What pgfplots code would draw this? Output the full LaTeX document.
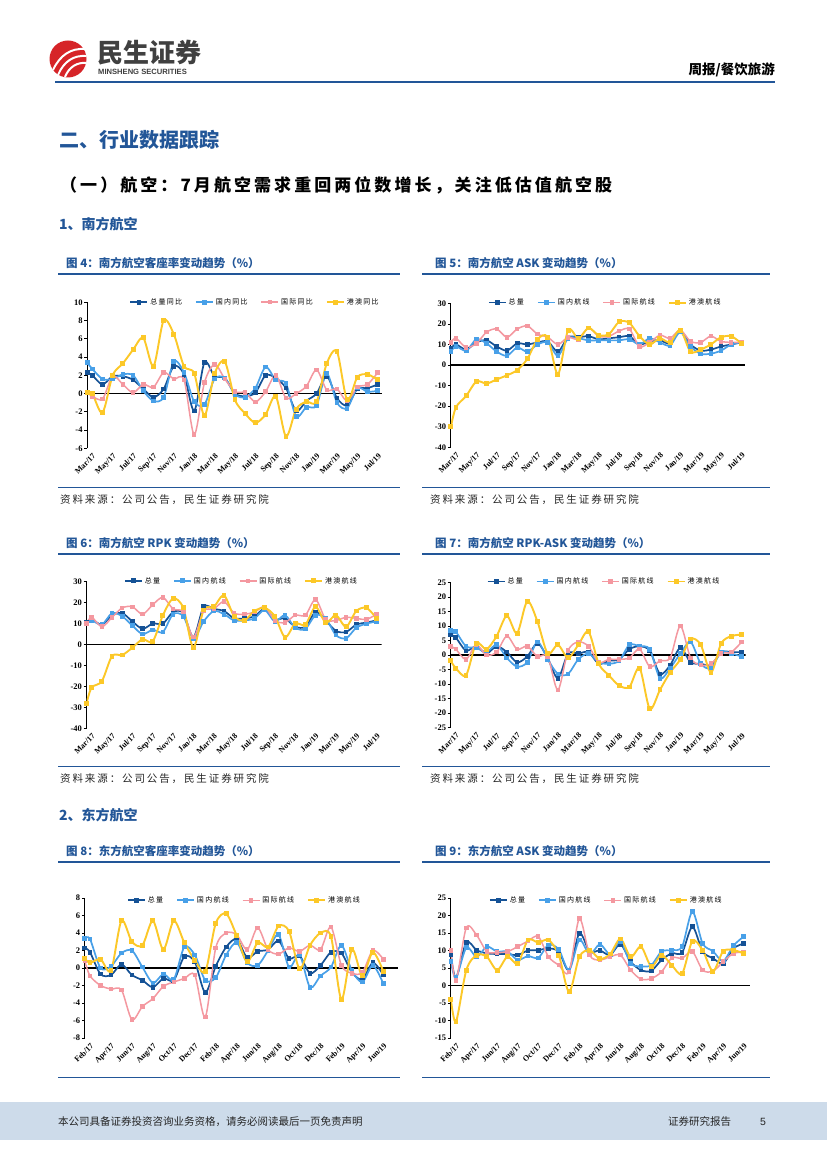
\documentclass[border=0pt]{standalone}
\usepackage{fontspec}
\usepackage{pgfplots}
\usepackage{pgfplotstable}
\pgfplotsset{compat=1.18}
\setmainfont{Liberation Serif}
\newfontfamily\cjk{Noto Sans CJK SC}
\newfontfamily\cjksp[LetterSpace=18]{Noto Sans CJK SC}
\newfontfamily\arialb{Liberation Sans}

\definecolor{tot}{RGB}{21,82,150}
\definecolor{dom}{RGB}{72,160,232}
\definecolor{intl}{RGB}{244,152,160}
\definecolor{hkm}{RGB}{252,200,40}
\definecolor{hdblue}{RGB}{34,86,152}
\definecolor{footbg}{RGB}{205,219,234}
\definecolor{logored}{RGB}{214,36,40}
\definecolor{logogray}{RGB}{64,64,64}

% x = month index; the first point sits on the y axis, half a step before index 0
\pgfplotstableread{
x a b c d
-0.5 2.3 3.4 0.1 0.1
0 2.0 2.7 -0.3 0.0
1 1.0 1.6 -0.6 -2.1
2 1.9 1.6 1.9 2.0
3 1.9 2.1 1.0 3.3
4 1.5 2.0 0.1 4.8
5 0.5 0.3 1.0 6.1
6 -0.4 -0.8 0.7 3.0
7 0.5 -0.4 2.3 8.0
8 3.0 3.5 1.6 6.5
9 2.1 2.3 1.5 3.0
10 -1.9 -0.9 -4.5 2.2
11 3.4 -1.2 1.2 -2.4
12 1.9 1.6 3.2 2.2
13 1.7 1.7 1.6 3.5
14 0.0 -0.1 0.2 -0.7
15 -0.3 -0.4 0.1 -2.2
16 0.1 0.6 -0.9 -3.2
17 2.0 2.9 0.2 -2.3
18 1.7 1.5 2.0 -0.3
19 0.6 1.1 -0.5 -4.7
20 -1.9 -2.5 0.0 -1.7
21 -0.8 -1.5 0.8 -0.9
22 0.0 -1.3 2.6 -0.9
23 1.9 2.2 0.4 3.3
24 -0.5 -1.0 0.5 4.6
25 -1.3 -1.6 -0.8 -0.7
26 0.5 0.6 0.7 1.8
27 0.6 0.2 1.0 2.1
28 1.0 0.3 2.3 1.5
}\tLoad

\pgfplotstableread{
x a b c d
-0.5 8 6.5 11 -30
0 10 9 13 -20.5
1 7.5 7 8.5 -15
2 11 12.5 10.5 -8
3 12 10.5 16 -9
4 9 6.5 17.5 -7
5 7 4.5 13.5 -5
6 10.5 8.5 17.5 -2.5
7 10 6.5 19 3
8 11 10 15 12.5
9 11.5 11 13.5 13.5
10 6.5 4.5 10 -4.5
11 13.5 13 13.5 17
12 13.5 13 12.5 13
13 14 12 18 18
14 12.5 12 14 14.5
15 13 12 14 15
16 13.5 12 16.5 21
17 14 12.5 17.5 20.5
18 10 10 9 14
19 11.5 13 11 10
20 12 11 14.5 13
21 10.5 9.5 13 11
22 16.5 16 17 17
23 10 9 11.5 6.5
24 7 5.5 11 7.5
25 7.5 5.5 14 10
26 9 7 11.5 13.5
27 10 10 11 14
28 11 11 11 10.5
}\tAsk

\pgfplotstableread{
x a b c d
-0.5 10.5 10 10 -28
0 12 11.5 13 -20.5
1 9.5 9.5 8.5 -17.5
2 14 15 13 -5.5
3 15 13.5 17.5 -5
4 11 9 18 -1.5
5 7.5 5 14.5 2.5
6 10 7 19 1.5
7 10 6 22.5 14
8 15.5 14.5 17 22
9 15 13.5 15.5 17.5
10 3.5 3 3.5 -1.5
11 18 11 16 16.5
12 17 16 17 18
13 16 14.5 20.5 23.5
14 12.5 11.5 15 13.5
15 12.5 11.5 14.5 11.5
16 13.5 12.5 15.5 16
17 17 16.5 18 17.5
18 12 11 11.5 13.5
19 12.5 14 10.5 3.5
20 8.5 8 14 10
21 8.5 7.5 14 9.5
22 15.5 14 21.5 18
23 11.5 12.5 12 10.5
24 6.5 4.5 11.5 14
25 6 3 13 8.5
26 9.5 8 12.5 16
27 10.5 10 12 17.5
28 11.5 11 14.5 12.5
}\tRpk

\pgfplotstableread{
x a b c d
-0.5 7 8.5 3 -2
0 6 8 2 -4.5
1 1.5 3 -1.5 -7
2 3 2.5 3.5 4
3 0.5 1 0 2
4 3 3.5 1 6.5
5 1 -1 6.5 13.5
6 -2.5 -4 2 7.5
7 -0.5 -2.5 3 18.5
8 4 4.5 -0.5 11.5
9 -1 -1.5 -0.5 0.5
10 -8 -6.5 -12 3.5
11 0.5 -6.5 1.5 -1
12 0.5 -1.5 4.5 3.5
13 1 0.5 3 8
14 -3 -2.5 -2.5 -3
15 -2 -3 -1.5 -7
16 -1.5 -2 -1.5 -10.5
17 2 3.5 -1 -11
18 3 3 2 -4.5
19 1.5 2 -4 -18.5
20 -6.5 -8 -2 -12
21 -3.5 -4.5 -1 -6
22 2.5 0.5 10 -1.5
23 -2.5 4.5 -1 5.5
24 -3 -3 -3.5 3.5
25 -3.5 -4.5 -3 -6
26 1 1 0.5 4
27 1 0.5 1 6.5
28 1 -0.5 4.5 7
}\tGap

\pgfplotstableread{
x a b c d
-0.5 2.3 3.4 0.8 1.1
0 1.8 3.3 -0.9 0.6
1 -0.7 0.0 -2.0 1.0
2 -0.8 0.2 -2.4 -0.3
3 0.4 1.7 -2.5 5.4
4 -0.8 2.0 -5.9 3.0
5 -1.4 0.1 -4.4 2.6
6 -2.2 -1.7 -3.5 5.4
7 -1.2 -0.7 -2.1 2.1
8 -1.4 -1.3 -1.6 5.4
9 1.3 2.4 -1.2 2.9
10 0.7 1.5 -0.8 0.9
11 -2.8 -1.4 -5.6 -0.4
12 0.2 -1.1 2.3 5.1
13 2.4 1.5 4.0 6.2
14 3.3 2.9 3.8 3.7
15 1.2 0.6 2.1 0.7
16 1.9 0.3 4.6 2.9
17 2.1 2.0 2.1 2.4
18 3.1 3.8 1.6 4.8
19 1.1 0.1 2.3 4.2
20 1.4 1.5 1.9 -0.1
21 -0.6 -2.2 2.6 2.6
22 0.3 -0.9 2.1 4.0
23 1.8 0.1 4.7 3.6
24 1.7 2.6 0.3 -3.6
25 -0.5 -0.3 -0.6 2.1
26 -1.3 -1.6 -0.5 -0.9
27 0.6 0.3 2.0 1.8
28 -0.8 -1.8 1.0 -0.4
}\tEload

\pgfplotstableread{
x a b c d
-0.5 8.7 6.8 10 -4
0 2.2 2.2 1.5 -10.3
1 12.3 10.8 16.5 4.4
2 10.1 8.2 14.4 8.7
3 9.2 11.1 9.7 8.2
4 9.0 9.7 9.4 4.4
5 9.0 9.7 9.7 8.2
6 8.7 7.3 11.1 6.3
7 10.0 8.4 12.7 13
8 10.1 7.9 14 12.3
9 10.6 11.6 8.2 13
10 9.7 10.3 5.8 8.7
11 4.4 4.4 3.9 -1.8
12 14.9 13 19.1 8.2
13 9.7 8.9 8.7 10.1
14 10.0 11.8 7.3 7.6
15 8.7 8.9 8.2 9
16 11.8 12.5 8.7 13.3
17 6.8 6.3 4.4 8.2
18 4.4 5.5 1.8 11.1
19 4.2 5.8 2.0 5.5
20 7.3 9.7 3.9 8.7
21 9.2 10.1 7.9 5.8
22 9.4 11.1 7.8 3.4
23 16.8 21.1 9.7 12.7
24 9.7 12 4.4 10.1
25 7.8 9.8 4.1 4.1
26 6.3 7.0 6.8 9.8
27 10.6 11.4 9.2 10.1
28 12 14 9.5 9.2
}\tEask

\pgfplotsset{
  page chart/.style={
    scale only axis,
    axis y line*=left,
    axis x line*=bottom,
    x axis line style={draw=none},
    xtick style={draw=none},
    y axis line style={black, line width=0.9pt},
    ytick style={black, line width=0.7pt},
    tick align=outside,
    major tick length=3pt,
    xmin=-0.5,
    xtick={0,2,...,28},
    /pgf/number format/assume math mode=true,
    y tick label style={font=\fontsize{8.5}{9}\selectfont\bfseries, inner sep=1.5pt},
    x tick label style={font=\fontsize{8}{9}\selectfont\bfseries, rotate=45, anchor=north east, inner sep=1pt},
    legend style={draw=none, fill=none, legend columns=4, anchor=north,
      font=\cjksp\fontsize{7}{8}\selectfont,
      /tikz/every even column/.append style={column sep=11pt}},
    legend cell align=left,
  },
  s1/.style={color=tot, line width=1.7pt, smooth, tension=0.5, mark=square*, mark size=1.5pt},
  s2/.style={color=dom, line width=1.7pt, smooth, tension=0.5, mark=square*, mark size=1.5pt},
  s3/.style={color=intl, line width=1.5pt, smooth, tension=0.5, mark=square*, mark size=1.5pt},
  s4/.style={color=hkm, line width=1.9pt, smooth, tension=0.5, mark=square*, mark size=1.5pt},
  row a/.style={xticklabels={Mar/17,May/17,Jul/17,Sep/17,Nov/17,Jan/18,Mar/18,May/18,Jul/18,Sep/18,Nov/18,Jan/19,Mar/19,May/19,Jul/19}},
  row b/.style={xticklabels={Feb/17,Apr/17,Jun/17,Aug/17,Oct/17,Dec/17,Feb/18,Apr/18,Jun/18,Aug/18,Oct/18,Dec/18,Feb/19,Apr/19,Jun/19}},
}
\newcommand\zeroline{\draw[black, line width=1.1pt] ({rel axis cs:0,0}|-{axis cs:0,0}) -- ({rel axis cs:1,0}|-{axis cs:0,0});}

\begin{document}
\begin{tikzpicture}[x=1pt,y=1pt]
\fill[white] (0,0) rectangle (827,-1169);
\useasboundingbox (0,0) rectangle (827,-1169);

% header
\fill[logored] (68,-59) circle (18.5);
\draw[white, line width=2pt] (53,-70) .. controls (60,-55) and (71,-48) .. (85,-49);
\draw[white, line width=2pt] (58,-75) .. controls (64,-61) and (74,-55) .. (86.5,-56);
\draw[white, line width=2pt] (65,-77) .. controls (69,-67) and (77,-62) .. (86.5,-63);
\node[anchor=west, inner sep=0, text=logogray, font=\cjk\bfseries\fontsize{26}{26}\selectfont] at (97,-53) {民生证券};
\node[anchor=west, inner sep=0, text=logogray, font=\arialb\bfseries\fontsize{7.6}{8}\selectfont] at (98,-72) {MINSHENG SECURITIES};
\node[anchor=east, inner sep=0, font=\cjk\bfseries\fontsize{13.5}{14}\selectfont] at (775,-70) {周报/餐饮旅游};
\draw[hdblue, line width=2.2pt] (55,-82) -- (775,-82);

\node[anchor=west, inner sep=0, text=hdblue, font=\cjk\bfseries\fontsize{20}{20}\selectfont] at (59,-140) {二、行业数据跟踪};
\node[anchor=west, inner sep=0, font=\cjksp\bfseries\fontsize{17}{17}\selectfont] at (60,-185) {（一）航空：7月航空需求重回两位数增长，关注低估值航空股};
\node[anchor=west, inner sep=0, text=hdblue, font=\cjk\bfseries\fontsize{14}{14}\selectfont] at (59,-224) {1、南方航空};

% chart titles, rules and sources
\foreach \ty/\ly in {263/274, 543/554, 851/862} {
  \draw[hdblue, line width=1.8pt] (58,-\ly) -- (400,-\ly);
  \draw[hdblue, line width=1.8pt] (422,-\ly) -- (770,-\ly);
}
\foreach \ly in {487, 766, 1077} {
  \draw[hdblue, line width=1pt] (58,-\ly) -- (400,-\ly);
  \draw[hdblue, line width=1pt] (422,-\ly) -- (770,-\ly);
}
\foreach \sy in {500, 779} {
  \node[anchor=west, inner sep=0, text=black!85, font=\cjksp\fontsize{10.5}{11}\selectfont] at (60,-\sy) {资料来源：公司公告，民生证券研究院};
  \node[anchor=west, inner sep=0, text=black!85, font=\cjksp\fontsize{10.5}{11}\selectfont] at (430,-\sy) {资料来源：公司公告，民生证券研究院};
}
\tikzset{ctitle/.style={anchor=west, inner sep=0, text=hdblue, font=\cjk\bfseries\fontsize{11.5}{12}\selectfont}}
\node[ctitle] at (66,-263) {图 4：南方航空客座率变动趋势（\%）};
\node[ctitle] at (435,-263) {图 5：南方航空 ASK 变动趋势（\%）};
\node[ctitle] at (66,-543) {图 6：南方航空 RPK 变动趋势（\%）};
\node[ctitle] at (435,-543) {图 7：南方航空 RPK-ASK 变动趋势（\%）};
\node[ctitle] at (66,-851) {图 8：东方航空客座率变动趋势（\%）};
\node[ctitle] at (435,-851) {图 9：东方航空 ASK 变动趋势（\%）};
\node[anchor=west, inner sep=0, text=hdblue, font=\cjk\bfseries\fontsize{14}{14}\selectfont] at (59,-815) {2、东方航空};

% footer
\fill[footbg] (0,-1102) rectangle (827,-1140);
\node[anchor=west, inner sep=0, text=black!85, font=\cjk\fontsize{10.5}{11}\selectfont] at (58,-1122) {本公司具备证券投资咨询业务资格，请务必阅读最后一页免责声明};
\node[anchor=west, inner sep=0, text=black!85, font=\cjk\fontsize{10.5}{11}\selectfont] at (668,-1122) {证券研究报告};
\node[anchor=west, inner sep=0, text=black!85, font=\arialb\fontsize{10.5}{11}\selectfont] at (760,-1122) {5};

% chart 4
\begin{axis}[page chart, row a, at={(87.2pt,-448.3pt)}, anchor=south west,
  width=294.6pt, height=146pt, xmax=28.4, ymin=-6, ymax=10, ytick={-6,-4,...,10},
  legend style={at={(0.57,1.055)}}]
\zeroline
\addplot[s1] table[x=x,y=a] {\tLoad}; \addlegendentry{总量同比}
\addplot[s2] table[x=x,y=b] {\tLoad}; \addlegendentry{国内同比}
\addplot[s3] table[x=x,y=c] {\tLoad}; \addlegendentry{国际同比}
\addplot[s4] table[x=x,y=d] {\tLoad}; \addlegendentry{港澳同比}
\end{axis}

% chart 5
\begin{axis}[page chart, row a, at={(450.9pt,-447.3pt)}, anchor=south west,
  width=294.1pt, height=144pt, xmax=28.35, ymin=-40, ymax=30, ytick={-40,-30,...,30},
  legend style={at={(0.525,1.06)}}]
\zeroline
\addplot[s1] table[x=x,y=a] {\tAsk}; \addlegendentry{总量}
\addplot[s2] table[x=x,y=b] {\tAsk}; \addlegendentry{国内航线}
\addplot[s3] table[x=x,y=c] {\tAsk}; \addlegendentry{国际航线}
\addplot[s4] table[x=x,y=d] {\tAsk}; \addlegendentry{港澳航线}
\end{axis}

% chart 6
\begin{axis}[page chart, row a, at={(86.6pt,-728.3pt)}, anchor=south west,
  width=295.1pt, height=146.6pt, xmax=28.5, ymin=-40, ymax=30, ytick={-40,-30,...,30},
  legend style={at={(0.525,1.06)}}]
\zeroline
\addplot[s1] table[x=x,y=a] {\tRpk}; \addlegendentry{总量}
\addplot[s2] table[x=x,y=b] {\tRpk}; \addlegendentry{国内航线}
\addplot[s3] table[x=x,y=c] {\tRpk}; \addlegendentry{国际航线}
\addplot[s4] table[x=x,y=d] {\tRpk}; \addlegendentry{港澳航线}
\end{axis}

% chart 7
\begin{axis}[page chart, row a, at={(450.7pt,-727.7pt)}, anchor=south west,
  width=295pt, height=145.4pt, xmax=28.4, ymin=-25, ymax=25, ytick={-25,-20,...,25},
  legend style={at={(0.52,1.06)}}]
\zeroline
\addplot[s1] table[x=x,y=a] {\tGap}; \addlegendentry{总量}
\addplot[s2] table[x=x,y=b] {\tGap}; \addlegendentry{国内航线}
\addplot[s3] table[x=x,y=c] {\tGap}; \addlegendentry{国际航线}
\addplot[s4] table[x=x,y=d] {\tGap}; \addlegendentry{港澳航线}
\end{axis}

% chart 8
\begin{axis}[page chart, row b, at={(84.8pt,-1038pt)}, anchor=south west,
  width=313.2pt, height=140pt, xmax=29.4, ymin=-8, ymax=8, ytick={-8,-6,...,8},
  legend style={at={(0.51,1.04)}}]
\zeroline
\addplot[s1] table[x=x,y=a] {\tEload}; \addlegendentry{总量}
\addplot[s2] table[x=x,y=b] {\tEload}; \addlegendentry{国内航线}
\addplot[s3] table[x=x,y=c] {\tEload}; \addlegendentry{国际航线}
\addplot[s4] table[x=x,y=d] {\tEload}; \addlegendentry{港澳航线}
\end{axis}

% chart 9
\begin{axis}[page chart, row b, at={(450.9pt,-1038pt)}, anchor=south west,
  width=299pt, height=140pt, xmax=28.6, ymin=-15, ymax=25, ytick={-15,-10,...,25},
  legend style={at={(0.52,1.04)}}]
\zeroline
\addplot[s1] table[x=x,y=a] {\tEask}; \addlegendentry{总量}
\addplot[s2] table[x=x,y=b] {\tEask}; \addlegendentry{国内航线}
\addplot[s3] table[x=x,y=c] {\tEask}; \addlegendentry{国际航线}
\addplot[s4] table[x=x,y=d] {\tEask}; \addlegendentry{港澳航线}
\end{axis}
\end{tikzpicture}
\end{document}
